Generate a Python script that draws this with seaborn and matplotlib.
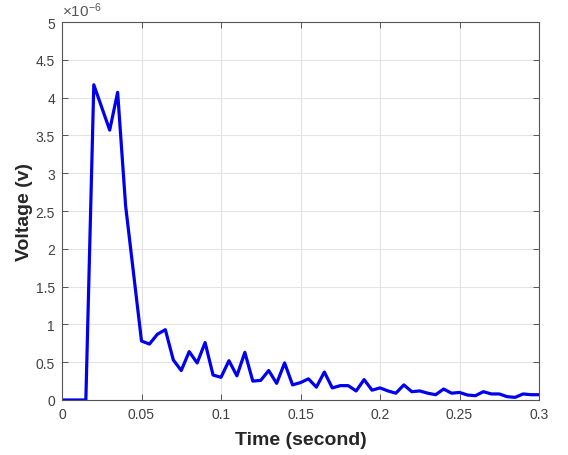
import numpy as np
import pandas as pd
import matplotlib
matplotlib.use("Agg")
import matplotlib.pyplot as plt
import seaborn as sns
from matplotlib.ticker import FuncFormatter

# Data (time in seconds, voltage in volts)
time_s = [0.0, 0.005, 0.01, 0.015, 0.02, 0.03, 0.035, 0.04, 0.05, 0.055,
          0.06, 0.065, 0.07, 0.075, 0.08, 0.085, 0.09, 0.095, 0.10, 0.105,
          0.11, 0.115, 0.12, 0.125, 0.13, 0.135, 0.14, 0.145, 0.15, 0.155,
          0.16, 0.165, 0.17, 0.175, 0.18, 0.185, 0.19, 0.195, 0.20, 0.205,
          0.21, 0.215, 0.22, 0.225, 0.23, 0.235, 0.24, 0.245, 0.25, 0.255,
          0.26, 0.265, 0.27, 0.275, 0.28, 0.285, 0.29, 0.295, 0.30]
voltage_uv = [0.0, 0.0, 0.0, 0.0, 4.17, 3.57, 4.07, 2.57, 0.78, 0.74,
              0.87, 0.93, 0.53, 0.39, 0.64, 0.49, 0.76, 0.33, 0.30, 0.52,
              0.32, 0.63, 0.25, 0.26, 0.39, 0.22, 0.49, 0.20, 0.23, 0.28,
              0.17, 0.37, 0.16, 0.19, 0.19, 0.12, 0.27, 0.13, 0.16, 0.12,
              0.09, 0.20, 0.11, 0.12, 0.09, 0.07, 0.145, 0.09, 0.10, 0.066,
              0.057, 0.11, 0.08, 0.08, 0.044, 0.035, 0.08, 0.07, 0.07]
voltage_v = [v * 1e-6 for v in voltage_uv]

x_ticks = [0, 0.05, 0.1, 0.15, 0.2, 0.25, 0.3]
y_ticks = [i * 0.5e-6 for i in range(11)]

df = pd.DataFrame({"Time": time_s, "Voltage": voltage_v})

sns.set_theme(style="white")
plt.rcParams["font.family"] = ["Liberation Sans", "DejaVu Sans"]
plt.rcParams["mathtext.fontset"] = "custom"
plt.rcParams["mathtext.rm"] = "Liberation Sans"
plt.rcParams["mathtext.it"] = "Liberation Sans:italic"

fig = plt.figure(figsize=(5.68, 4.56), dpi=100)
ax = fig.add_axes([62 / 568, 55 / 456, 477 / 568, 378 / 456])

sns.lineplot(data=df, x="Time", y="Voltage", ax=ax, color="#0000ee",
             linewidth=2.3, estimator=None, sort=False)

ax.set_xlim(0, 0.3)
ax.set_ylim(0, 5e-6)
ax.set_xticks(x_ticks)
ax.set_yticks(y_ticks)
ax.xaxis.set_major_formatter(FuncFormatter(lambda v, p: f"{v:g}"))
ax.yaxis.set_major_formatter(FuncFormatter(lambda v, p: f"{round(v * 1e6, 3):g}"))

axis_col = "#555555"
ax.grid(True, color="#e3e3e3", linewidth=0.8)
ax.set_axisbelow(True)
for s in ax.spines.values():
    s.set_color(axis_col)
    s.set_linewidth(0.8)
ax.tick_params(axis="both", which="major", direction="in", length=4,
               width=0.7, color=axis_col, labelcolor="#404040",
               labelsize=10, top=True, right=True, bottom=True, left=True,
               pad=5)

ax.set_xlabel("Time (second)", fontsize=14, fontweight="bold", color="#262626",
              labelpad=7)
ax.set_ylabel("Voltage (v)", fontsize=14, fontweight="bold", color="#262626",
              labelpad=2)

ax.text(0.0, 1.008, r"$\times10^{-6}$", transform=ax.transAxes, fontsize=11,
        color="#555555", ha="left", va="bottom")

fig.savefig("out.png", dpi=100, facecolor="white")
